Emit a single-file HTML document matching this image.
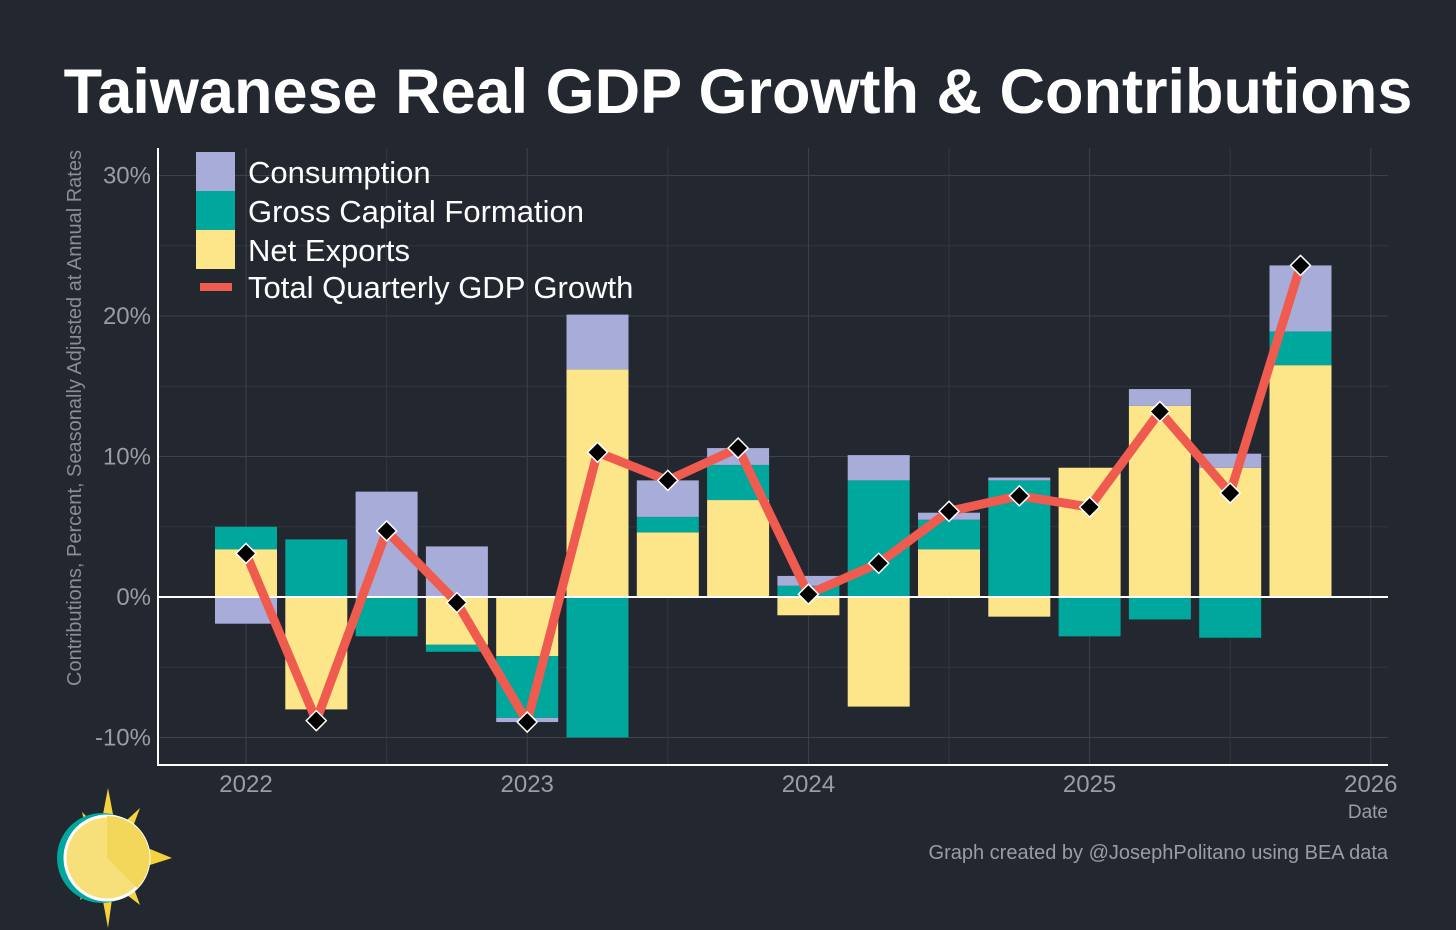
<!DOCTYPE html>
<html><head><meta charset="utf-8"><style>
body{margin:0;background:#23272f;}
svg{display:block;font-family:"Liberation Sans",sans-serif;}
</style></head><body>
<svg id="chart" width="1456" height="930" viewBox="0 0 1456 930">
<rect width="1456" height="930" fill="#23272f"/>
<text x="738" y="113" text-anchor="middle" fill="#fff" font-size="63" font-weight="bold">Taiwanese Real GDP Growth &amp; Contributions</text>
<g id="grid"></g>
<g id="bars"></g>
<g id="line"></g>
<g id="axes"></g>
<g>
<rect x="196" y="152" width="39" height="39" fill="#a8acd8"/>
<rect x="196" y="191" width="39" height="39" fill="#00a79d"/>
<rect x="196" y="230" width="39" height="39" fill="#fde68a"/>
<line x1="200" y1="287" x2="232" y2="287" stroke="#ef5b4f" stroke-width="8"/>
<text x="248" y="183" fill="#fff" font-size="31">Consumption</text>
<text x="248" y="222" fill="#fff" font-size="31">Gross Capital Formation</text>
<text x="248" y="261" fill="#fff" font-size="31">Net Exports</text>
<text x="248" y="298" fill="#fff" font-size="31">Total Quarterly GDP Growth</text>
</g>
<text transform="translate(81,418) rotate(-90)" text-anchor="middle" fill="#8a8d93" font-size="20">Contributions, Percent, Seasonally Adjusted at Annual Rates</text>
<text x="1388" y="818" text-anchor="end" fill="#9a9da3" font-size="19">Date</text>
<text x="1388" y="859" text-anchor="end" fill="#9a9da3" font-size="20">Graph created by @JosephPolitano using BEA data</text>
<g>
<polygon points="108,788 116,830 140,808 128,840 172,858 128,872 140,905 114,885 108,928 100,885 80,900 90,870 60,858 90,846 82,812 100,830" fill="#f5d33f"/>
<circle cx="102" cy="858" r="45" fill="#00a79d"/>
<circle cx="107" cy="858" r="42" fill="#f7e07a" stroke="#fff" stroke-width="3"/>
<path d="M107,858 L107,816 A42,42 0 0,1 137,888 Z" fill="#f2d75a"/>
</g>
</svg>
<script>
const quarters=["2022Q1","2022Q2","2022Q3","2022Q4","2023Q1","2023Q2","2023Q3","2023Q4","2024Q1","2024Q2","2024Q3","2024Q4","2025Q1","2025Q2","2025Q3","2025Q4"];
const netExports=[3.4,-8.0,0,-3.4,-4.2,16.2,4.6,6.9,-1.3,-7.8,3.4,-1.4,9.2,13.6,9.2,16.5];
const capitalFormation=[1.6,4.1,-2.8,-0.5,-4.4,-10.0,1.1,2.5,0.8,8.3,2.1,8.3,-2.8,-1.6,-2.9,2.4];
const consumption=[-1.9,0,7.5,3.6,-0.3,3.9,2.6,1.2,0.7,1.8,0.5,0.2,0,1.2,1.0,4.7];
const totalGrowth=[3.1,-8.8,4.7,-0.4,-8.9,10.3,8.3,10.6,0.2,2.4,6.1,7.2,6.4,13.2,7.4,23.6];
const yTicks=[30,20,10,0,-10];
const yTickLabels=["30%","20%","10%","0%","-10%"];
const xYears=[2022,2023,2024,2025,2026];
const NS="http://www.w3.org/2000/svg";
const plotLeft=158,plotRight=1388,plotTop=148,plotBottom=765;
function y(v){return 597-v*14.05;}
function xq(i){return 246+i*70.3;}
function xYear(yr){return 246+(yr-2022)*281.2;}
function mk(tag,attrs,parent){const e=document.createElementNS(NS,tag);for(const k in attrs)e.setAttribute(k,attrs[k]);parent.appendChild(e);return e;}
const grid=document.getElementById('grid');
for(let v=-10;v<=30;v+=5){const g=mk('line',{x1:plotLeft,x2:plotRight,y1:y(v),y2:y(v),stroke:v%10===0?'#3d424b':'#33373f','stroke-width':1},grid);

}
for(let yr=2022;yr<=2026;yr+=0.5){const g=mk('line',{x1:xYear(yr),x2:xYear(yr),y1:plotTop,y2:plotBottom,stroke:yr%1===0?'#3d424b':'#33373f','stroke-width':1},grid);

}
const bars=document.getElementById('bars');
const series=[[netExports,'#fde68a','net-exports'],[capitalFormation,'#00a79d','gcf'],[consumption,'#a8acd8','consumption']];
const bw=62;
quarters.forEach((q,i)=>{let pos=0,neg=0;
series.forEach(([arr,col,nm])=>{const v=arr[i];if(!v)return;let a,b;
if(v>0){a=pos;b=pos+v;pos=b;}else{a=neg;b=neg+v;neg=b;}
const r=mk('rect',{x:xq(i)-bw/2,width:bw,y:Math.min(y(a),y(b)),height:Math.abs(y(a)-y(b)),fill:col},bars);

});});
const zl=mk('line',{x1:plotLeft,x2:plotRight,y1:y(0),y2:y(0),stroke:'#fff','stroke-width':2},bars);


const lg=document.getElementById('line');
const pl=mk('polyline',{points:totalGrowth.map((v,i)=>xq(i)+','+y(v)).join(' '),fill:'none',stroke:'#ef5b4f','stroke-width':9,'stroke-linejoin':'round'},lg);


totalGrowth.forEach((v,i)=>{const cx=xq(i),cy=y(v),s=10;
const d=mk('polygon',{points:`${cx},${cy-s} ${cx+s},${cy} ${cx},${cy+s} ${cx-s},${cy}`,fill:'#000',stroke:'#fff','stroke-width':1.5},lg);

});
const ax=document.getElementById('axes');
const yl=mk('line',{x1:plotLeft,x2:plotLeft,y1:plotTop,y2:plotBottom+1,stroke:'#fff','stroke-width':2},ax);


const xl=mk('line',{x1:plotLeft-1,x2:plotRight,y1:plotBottom,y2:plotBottom,stroke:'#fff','stroke-width':2},ax);


yTicks.forEach((v,i)=>{const t=mk('text',{x:151,y:y(v)+8,'text-anchor':'end',fill:'#9a9da3','font-size':24},ax);t.textContent=yTickLabels[i];

});
xYears.forEach(yr=>{const t=mk('text',{x:xYear(yr),y:792,'text-anchor':'middle',fill:'#9a9da3','font-size':24},ax);t.textContent=yr;

});
</script>
</body></html>
